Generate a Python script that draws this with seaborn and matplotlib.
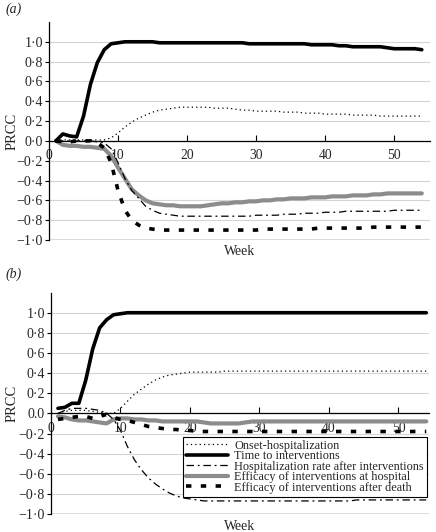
import numpy as np
import pandas as pd
import seaborn as sns
import matplotlib
matplotlib.use("Agg")
import matplotlib.pyplot as plt
from matplotlib.ticker import FixedLocator, FixedFormatter

# weeks 1..54 for both panels
weeks = list(range(1, 55))

# ---- panel (a) ----
onset_a = [0.00, 0.01, 0.01, 0.01, 0.01, 0.01, 0.01, 0.01, 0.03, 0.08,
           0.14, 0.19, 0.23, 0.26, 0.29, 0.31, 0.32, 0.33, 0.34, 0.34,
           0.34, 0.34, 0.34, 0.33, 0.33, 0.33, 0.32, 0.31, 0.31, 0.30,
           0.30, 0.30, 0.30, 0.29, 0.29, 0.29, 0.28, 0.28, 0.28, 0.27,
           0.27, 0.27, 0.27, 0.26, 0.26, 0.26, 0.26, 0.25, 0.25, 0.25,
           0.25, 0.25, 0.25, 0.25]
time_a = [0.00, 0.07, 0.05, 0.04, 0.25, 0.57, 0.79, 0.92, 0.98, 0.99,
          1.00, 1.00, 1.00, 1.00, 1.00, 0.99, 0.99, 0.99, 0.99, 0.99,
          0.99, 0.99, 0.99, 0.99, 0.99, 0.99, 0.99, 0.99, 0.98, 0.98,
          0.98, 0.98, 0.98, 0.98, 0.98, 0.98, 0.98, 0.97, 0.97, 0.97,
          0.97, 0.96, 0.96, 0.95, 0.95, 0.95, 0.95, 0.95, 0.94, 0.93,
          0.93, 0.93, 0.93, 0.92]
hosp_a = [0.00, 0.00, 0.00, 0.00, 0.00, 0.00, -0.01, -0.02, -0.08, -0.22,
          -0.38, -0.50, -0.58, -0.66, -0.70, -0.73, -0.74, -0.75, -0.76, -0.76,
          -0.76, -0.76, -0.76, -0.76, -0.76, -0.76, -0.76, -0.76, -0.76, -0.75,
          -0.75, -0.75, -0.75, -0.74, -0.74, -0.74, -0.73, -0.73, -0.73, -0.72,
          -0.72, -0.72, -0.71, -0.71, -0.71, -0.71, -0.71, -0.71, -0.71, -0.70,
          -0.70, -0.70, -0.70, -0.70]
eff_hosp_a = [0.00, -0.04, -0.05, -0.05, -0.06, -0.06, -0.07, -0.08, -0.15, -0.27,
              -0.38, -0.49, -0.55, -0.60, -0.63, -0.64, -0.65, -0.65, -0.66, -0.66,
              -0.66, -0.66, -0.65, -0.64, -0.63, -0.63, -0.62, -0.62, -0.61, -0.61,
              -0.60, -0.60, -0.59, -0.59, -0.58, -0.58, -0.58, -0.57, -0.57, -0.57,
              -0.56, -0.56, -0.56, -0.55, -0.55, -0.55, -0.54, -0.54, -0.53, -0.53,
              -0.53, -0.53, -0.53, -0.53]
eff_death_a = [0.00, -0.01, -0.01, 0.00, 0.00, 0.00, -0.02, -0.07, -0.22, -0.50,
               -0.70, -0.80, -0.85, -0.88, -0.89, -0.90, -0.90, -0.90, -0.90, -0.90,
               -0.90, -0.90, -0.90, -0.90, -0.90, -0.90, -0.90, -0.90, -0.90, -0.90,
               -0.89, -0.89, -0.89, -0.89, -0.89, -0.89, -0.89, -0.89, -0.88, -0.88,
               -0.88, -0.88, -0.88, -0.88, -0.88, -0.88, -0.87, -0.87, -0.87, -0.87,
               -0.87, -0.87, -0.87, -0.87]

# ---- panel (b) ----
onset_b = [0.00, 0.02, 0.03, 0.03, 0.03, 0.02, 0.01, 0.00, 0.00, 0.05,
           0.12, 0.19, 0.24, 0.29, 0.33, 0.36, 0.38, 0.39, 0.40, 0.41,
           0.41, 0.41, 0.41, 0.41, 0.42, 0.42, 0.42, 0.42, 0.42, 0.42,
           0.42, 0.42, 0.42, 0.42, 0.42, 0.42, 0.42, 0.42, 0.42, 0.42,
           0.42, 0.42, 0.42, 0.42, 0.42, 0.42, 0.42, 0.42, 0.42, 0.42,
           0.42, 0.42, 0.42, 0.42]
time_b = [0.05, 0.06, 0.10, 0.10, 0.33, 0.64, 0.85, 0.93, 0.98, 0.99,
          1.00, 1.00, 1.00, 1.00, 1.00, 1.00, 1.00, 1.00, 1.00, 1.00,
          1.00, 1.00, 1.00, 1.00, 1.00, 1.00, 1.00, 1.00, 1.00, 1.00,
          1.00, 1.00, 1.00, 1.00, 1.00, 1.00, 1.00, 1.00, 1.00, 1.00,
          1.00, 1.00, 1.00, 1.00, 1.00, 1.00, 1.00, 1.00, 1.00, 1.00,
          1.00, 1.00, 1.00, 1.00]
hosp_b = [0.00, 0.03, 0.05, 0.05, 0.05, 0.04, 0.03, 0.00, -0.06, -0.17,
          -0.33, -0.46, -0.56, -0.64, -0.70, -0.75, -0.79, -0.82, -0.84, -0.85,
          -0.86, -0.87, -0.87, -0.87, -0.87, -0.87, -0.87, -0.87, -0.87, -0.87,
          -0.87, -0.87, -0.87, -0.87, -0.87, -0.87, -0.87, -0.87, -0.87, -0.87,
          -0.87, -0.87, -0.87, -0.86, -0.86, -0.86, -0.86, -0.86, -0.86, -0.86,
          -0.86, -0.86, -0.86, -0.86]
eff_hosp_b = [-0.03, -0.04, -0.06, -0.07, -0.07, -0.08, -0.09, -0.10, -0.06, -0.05,
              -0.05, -0.06, -0.06, -0.07, -0.07, -0.08, -0.08, -0.08, -0.08, -0.08,
              -0.08, -0.09, -0.10, -0.10, -0.10, -0.10, -0.10, -0.09, -0.08, -0.08,
              -0.08, -0.08, -0.08, -0.08, -0.08, -0.08, -0.08, -0.08, -0.08, -0.08,
              -0.08, -0.08, -0.08, -0.08, -0.08, -0.08, -0.08, -0.08, -0.08, -0.08,
              -0.08, -0.08, -0.08, -0.08]
eff_death_b = [-0.06, -0.05, -0.04, -0.03, -0.03, -0.05, -0.03, -0.01, -0.04, -0.06,
               -0.07, -0.09, -0.11, -0.13, -0.14, -0.15, -0.16, -0.16, -0.17, -0.17,
               -0.18, -0.18, -0.18, -0.18, -0.18, -0.18, -0.18, -0.18, -0.18, -0.18,
               -0.18, -0.18, -0.18, -0.18, -0.18, -0.18, -0.18, -0.18, -0.18, -0.18,
               -0.18, -0.18, -0.18, -0.18, -0.18, -0.18, -0.18, -0.18, -0.18, -0.18,
               -0.18, -0.18, -0.18, -0.18]

series_names = ["Onset-hospitalization", "Time to interventions",
                "Hospitalization rate after interventions",
                "Efficacy of interventions at hospital",
                "Efficacy of interventions after death"]

y_ticks = [-1.0, -0.8, -0.6, -0.4, -0.2, 0.0, 0.2, 0.4, 0.6, 0.8, 1.0]
y_labels_a = ["\u22121\u00b70", "\u22120\u00b78", "\u22120\u00b76", "\u22120\u00b74", "\u22120\u00b72",
              "0\u00b70", "0\u00b72", "0\u00b74", "0\u00b76", "0\u00b78", "1\u00b70"]
y_labels_b = y_labels_a[:5] + ["0.0"] + y_labels_a[6:]
x_ticks = [0, 10, 20, 30, 40, 50]

sns.set_theme(style="white")
plt.rcParams["font.family"] = ["Liberation Serif", "DejaVu Serif"]

styles = [
    dict(color="black", linewidth=0.9, linestyle=(0, (1, 2.5))),
    dict(color="black", linewidth=2.6, linestyle="-"),
    dict(color="black", linewidth=0.9, linestyle=(0, (6, 3, 1.5, 3))),
    dict(color="#8c8c8c", linewidth=3.0, linestyle="-"),
    dict(color="black", linewidth=2.6, linestyle=(0, (1.5, 2.6))),
]
draw_order = [3, 0, 1, 2, 4]


def draw_panel(ax, data, ylabels, xmax):
    lines = {}
    for i in draw_order:
        sns.lineplot(x=weeks, y=data[i], ax=ax, label=series_names[i], legend=False, **styles[i])
        lines[i] = ax.get_lines()[-1]
    ax.set_xlim(0, xmax)
    ax.set_ylim(-1.0, 1.2)
    ax.yaxis.set_major_locator(FixedLocator(y_ticks))
    ax.yaxis.set_major_formatter(FixedFormatter(ylabels))
    ax.xaxis.set_major_locator(FixedLocator(x_ticks))
    ax.grid(axis="y", color="#d4d4d4", linewidth=0.8)
    ax.grid(axis="x", visible=False)
    for s in ["top", "right"]:
        ax.spines[s].set_visible(False)
    ax.spines["left"].set_color("black")
    ax.spines["left"].set_linewidth(0.9)
    ax.spines["bottom"].set_position(("data", 0))
    ax.spines["bottom"].set_color("black")
    ax.spines["bottom"].set_linewidth(0.9)
    ax.axhline(-1.0, color="#555555", linewidth=1.0, zorder=1)
    ax.tick_params(axis="y", direction="out", length=3, width=0.8, color="black",
                   labelsize=10, pad=1.5, left=True)
    ax.tick_params(axis="x", direction="in", length=4, width=0.8, color="black",
                   labelsize=9.8, pad=6, bottom=True)
    ax.set_ylabel("PRCC", fontsize=10.5)
    # place the label's right edge around 19 px from the figure's left edge
    pos = ax.get_position()
    fig_w = ax.figure.get_figwidth() * ax.figure.dpi
    left_px = pos.x0 * fig_w
    width_px = pos.width * fig_w
    ax.yaxis.set_label_coords((19 - left_px) / width_px, 0.5)
    ax.set_xlabel("")
    ax.text(0.5, -0.025, "Week", transform=ax.transAxes, ha="center", va="top", fontsize=10)
    ax.set_facecolor("white")
    return lines


fig = plt.figure(figsize=(4.36, 5.32), dpi=100)
ax_a = fig.add_axes([0.1124, 0.5489, 0.874, 0.4098])
ax_b = fig.add_axes([0.117, 0.0338, 0.867, 0.4162])

draw_panel(ax_a, [onset_a, time_a, hosp_a, eff_hosp_a, eff_death_a], y_labels_a, 55.2)
lines_b = draw_panel(ax_b, [onset_b, time_b, hosp_b, eff_hosp_b, eff_death_b], y_labels_b, 54.4)

leg = ax_b.legend([lines_b[i] for i in range(5)], series_names, loc="upper right",
                  bbox_to_anchor=(0.995, 0.35), borderaxespad=0, fontsize=8.8,
                  frameon=True, fancybox=False, edgecolor="black", framealpha=1,
                  handlelength=3.5, handletextpad=0.5, labelspacing=-0.12,
                  borderpad=0.25)
leg.get_frame().set_linewidth(0.8)

fig.text(0.012, 0.982, "(a)", fontsize=10, style="italic", va="center")
fig.text(0.012, 0.485, "(b)", fontsize=10, style="italic", va="center")

fig.savefig("out.png", dpi=100)
